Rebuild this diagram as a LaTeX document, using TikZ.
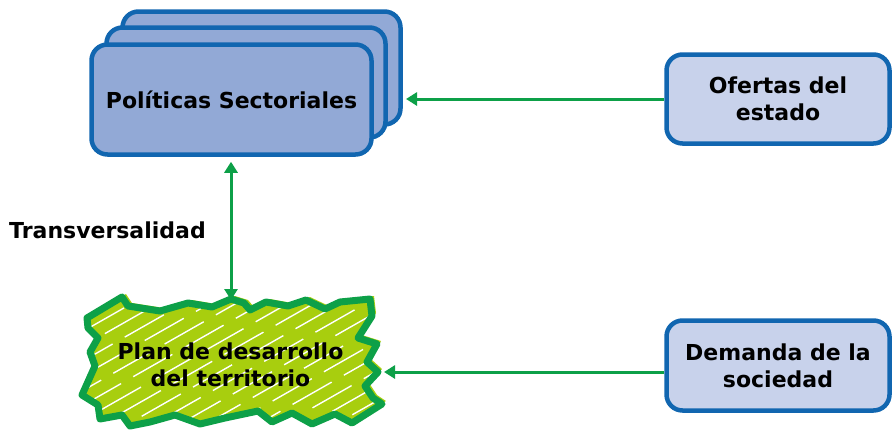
\documentclass[tikz,border=0pt]{standalone}
\usepackage{fontspec}
\setmainfont{DejaVu Sans}
\usetikzlibrary{arrows.meta,calc}
\definecolor{bborder}{RGB}{17,102,176}
\definecolor{stackfill}{RGB}{146,169,214}
\definecolor{lightfill}{RGB}{200,210,235}
\definecolor{arrgreen}{RGB}{13,160,72}
\definecolor{limefill}{RGB}{168,206,14}
\tikzset{
  stackbox/.style={draw=bborder, fill=stackfill, line width=4.5pt, rounded corners=16pt, inner sep=0pt},
  lightbox/.style={draw=bborder, fill=lightfill, line width=4.5pt, rounded corners=16pt, inner sep=0pt,
     align=center, font=\fontsize{22}{27}\selectfont\bfseries},
  arr/.style={draw=arrgreen, line width=3pt, -{Triangle[length=11pt,width=13pt]}},
  darr/.style={draw=arrgreen, line width=3pt, {Triangle[length=11pt,width=13pt]}-{Triangle[length=11pt,width=13pt]}},
  lbl/.style={font=\fontsize{22}{27}\selectfont\bfseries, align=center, inner sep=0pt},
}
\begin{document}
\begin{tikzpicture}[x=1pt,y=-1pt]
\useasboundingbox (0,0) rectangle (893,431);
% stack
\node[stackbox, minimum width=278pt, minimum height=113pt] (back) at (261.5,68) {};
\node[stackbox, minimum width=279pt, minimum height=110pt] (mid) at (246,82.5) {};
\node[stackbox, minimum width=280pt, minimum height=110pt, font=\fontsize{22}{27}\selectfont\bfseries] (front) at (231.5,99.5) {Políticas Sectoriales};
% right boxes
\node[lightbox, minimum width=223pt, minimum height=89pt] (ofe) at (778,99) {Ofertas del\\estado};
\node[lightbox, minimum width=223pt, minimum height=90pt] (dem) at (778,365.5) {Demanda de la\\sociedad};
% plan shape
\def\planpath{(87,318) -- (122,297) -- (128,306) -- (160,311) -- (188,303) -- (212,307) -- (231,299) -- (244,303) -- (250,310) -- (266,302) -- (288,306) -- (306,300) -- (325,309) -- (340,302) -- (370,299) -- (372,316) -- (358,338) -- (377,344) -- (367,362) -- (378,372) -- (365,386) -- (373,398) -- (382,404) -- (352,423) -- (335,414) -- (312,424) -- (292,413) -- (272,422) -- (258,411) -- (225,418) -- (200,424) -- (175,415) -- (150,422) -- (130,426) -- (122,415) -- (100,419) -- (98,405) -- (82,395) -- (95,366) -- (90,352) -- (98,338) -- (88,328) -- cycle}
\fill[limefill, xshift=4pt, yshift=3pt] \planpath;
\fill[limefill] \planpath;
\begin{scope}
  \clip \planpath;
  \foreach \i in {0,...,24} {
    \draw[white, line width=1.4pt, dash pattern=on 45pt off 14pt, dash phase=\i*7pt] (-160+\i*26, 440) -- ++(260,-148);
  }
\end{scope}
\draw[arrgreen, line width=7pt, line join=round, line cap=round] \planpath;
\node[lbl, minimum width=290pt, minimum height=125pt] (plan) at (230.5,365) {\fontsize{22}{31}\selectfont Plan de desarrollo\\del territorio};
\node[lbl, anchor=base] (trans) at (107.5,238) {Transversalidad};
% connectors
\coordinate (backR) at (406,100);
\coordinate (planR) at (384,372);
\coordinate (planT) at (231,300);
\draw[arr] (ofe.west) -- (ofe.west -| backR);
\draw[arr] ([yshift=-6.5pt]dem.west) -- (planR);
\draw[darr] ([xshift=-0.5pt,yshift=-5pt]front.south) -- (planT);
\end{tikzpicture}
\end{document}
